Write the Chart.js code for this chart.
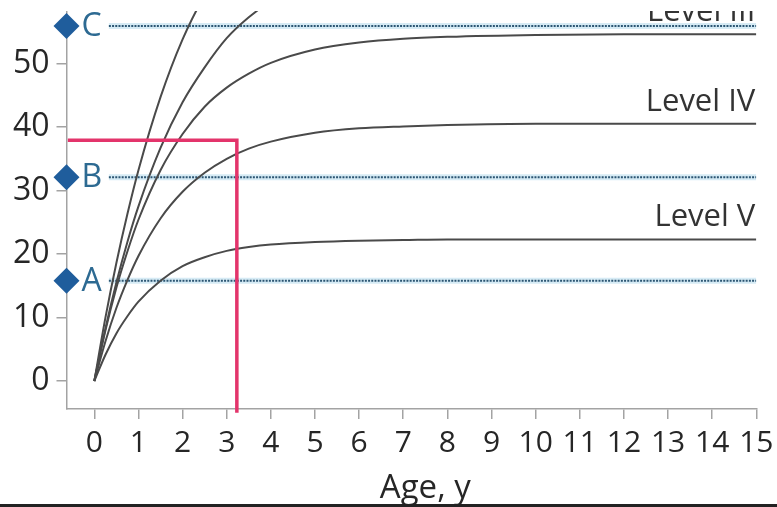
<!DOCTYPE html>
<html>
<head>
<meta charset="utf-8">
<script src="https://cdn.jsdelivr.net/npm/chart.js@4.4.0/dist/chart.umd.min.js"></script>
<style>
html,body{margin:0;padding:0;background:#fff;overflow:hidden;width:777px;height:507px;}
#crop{position:absolute;left:0;top:11px;width:777px;height:493px;overflow:hidden;background:#fff;}
#wrap{position:absolute;left:0;top:-51px;width:777px;height:547px;}
#bar{position:absolute;left:0;top:504px;width:777px;height:3px;background:#222;}
</style>
</head>
<body>
<div id="crop"><div id="wrap"><canvas id="c" width="777" height="547"></canvas></div></div>
<div id="bar"></div>
<script>
// ---- data ----
const ages = [0, 0.25, 0.5, 0.75, 1, 1.5, 2, 2.5, 3, 3.5, 4, 5, 6, 7, 8, 10, 12, 15];
const levelNames = ['Level I', 'Level II', 'Level III', 'Level IV', 'Level V'];
const levelI   = [0, 9.9, 18.6, 26.3, 33.2, 44.7, 53.8, 60.8, 66.4, 70.7, 74.3, null, null, null, null, null, null, null];
const levelII  = [0, 8.2, 15.5, 21.9, 27.5, 36.7, 43.9, 49.4, 54.0, 57.3, 59.8, 63.2, null, null, null, null, null, null];
const levelIII = [0, 7.9, 14.7, 20.4, 25.4, 33.2, 38.9, 43.2, 46.2, 48.4, 50.1, 52.2, 53.3, 53.9, 54.2, 54.5, 54.6, 54.6];
const levelIV  = [0, 6.2, 11.5, 15.9, 19.7, 25.6, 29.8, 32.8, 35.0, 36.6, 37.7, 39.1, 39.8, 40.1, 40.3, 40.5, 40.5, 40.5];
const levelV   = [0, 4.1, 7.5, 10.2, 12.5, 15.8, 18.1, 19.5, 20.5, 21.1, 21.5, 21.9, 22.1, 22.2, 22.3, 22.3, 22.3, 22.3];
const refNames = ['A', 'B', 'C'];
const refValues = [15.8, 32.1, 55.9];
const markerAge = 3.23;
const markerScore = 37.9;
const xTicks = [0,1,2,3,4,5,6,7,8,9,10,11,12,13,14,15];
const yTicks = [0,10,20,30,40,50,60];
const xTitle = 'Age, y';

const X_MIN = -0.63, X_MAX = 15, Y_MIN = -4.4, Y_MAX = 64;
const REF_START = 0.33;
const FONT = '"Open Sans", "Noto Sans", sans-serif';

const levels = [levelI, levelII, levelIII, levelIV, levelV];
const datasets = [];

// reference lines (light halo + dotted dark line)
refValues.forEach(v => {
  datasets.push({type:'line', data:[{x:REF_START,y:v},{x:X_MAX,y:v}], borderColor:'#d6ebf5', borderWidth:6,
    pointRadius:0, order:10});
  datasets.push({type:'line', data:[{x:REF_START,y:v},{x:X_MAX,y:v}], borderColor:'#2c5673', borderWidth:2,
    borderDash:[2,1.2], pointRadius:0, order:9});
});
// level curves
levels.forEach((vals, i) => {
  datasets.push({type:'line', label:levelNames[i],
    data: ages.map((a, j) => ({x:a, y:vals[j]})),
    borderColor:'#4a4a4a', borderWidth:2, pointRadius:0, cubicInterpolationMode:'monotone',
    spanGaps:false, order:5});
});
// pink marker lines
datasets.push({type:'line', data:[{x:X_MIN+0.03,y:markerScore},{x:markerAge,y:markerScore},{x:markerAge,y:-5}],
  borderColor:'#e3346b', borderWidth:3.5, pointRadius:0, tension:0, clip:false, order:2, borderJoinStyle:'miter'});
// diamonds
datasets.push({type:'scatter', data: refValues.map(v => ({x:X_MIN, y:v})),
  pointStyle:'rectRot', pointRadius:13, backgroundColor:'#1f5d9c', borderColor:'#1f5d9c', borderWidth:0,
  clip:false, order:1});

const textPlugin = {
  id:'texts',
  afterDatasetsDraw(chart){
    const ctx = chart.ctx, xs = chart.scales.x, ys = chart.scales.y;
    ctx.save();
    ctx.textBaseline = 'middle';
    // A/B/C labels
    ctx.font = '32px ' + FONT;
    ctx.fillStyle = '#2d6a92';
    ctx.textAlign = 'left';
    refValues.forEach((v, i) => {
      ctx.fillText(refNames[i], xs.getPixelForValue(X_MIN) + 15, ys.getPixelForValue(v) + 1);
    });
    // level labels
    ctx.font = '31px ' + FONT;
    ctx.fillStyle = '#333333';
    ctx.textAlign = 'right';
    levels.forEach((vals, i) => {
      const last = vals[vals.length - 1];
      if (last === null) return;
      ctx.fillText(levelNames[i], chart.chartArea.right - 1, ys.getPixelForValue(last) - 22);
    });
    // x-axis title, centred under the tick range
    ctx.font = '33px ' + FONT;
    ctx.fillStyle = '#262626';
    ctx.textAlign = 'center';
    ctx.textBaseline = 'alphabetic';
    const mid = (xTicks[0] + xTicks[xTicks.length - 1]) / 2;
    ctx.fillText(xTitle, xs.getPixelForValue(mid), xs.bottom - 9);
    ctx.restore();
  }
};

new Chart(document.getElementById('c'), {
  data:{datasets},
  plugins:[textPlugin],
  options:{
    responsive:false, animation:false,
    layout:{padding:{top:14.6, left:0, right:20.7, bottom:0}},
    plugins:{legend:{display:false}, tooltip:{enabled:false}},
    scales:{
      x:{type:'linear', min:X_MIN, max:X_MAX,
        afterBuildTicks:s => { s.ticks = xTicks.map(v => ({value:v})); },
        afterFit:s => { s.height = 98; s.paddingLeft = 0; s.paddingRight = 0; },
        grid:{drawOnChartArea:false, drawTicks:true, tickLength:10, color:'#a3a3a3', lineWidth:1.5},
        border:{display:true, color:'#a3a3a3', width:1.5},
        ticks:{autoSkip:false, maxRotation:0, minRotation:0, padding:6, color:'#262626',
          font:{family:FONT, size:30}},
        title:{display:false}
      },
      y:{type:'linear', min:Y_MIN, max:Y_MAX,
        afterBuildTicks:s => { s.ticks = yTicks.map(v => ({value:v})); },
        afterFit:s => { s.width = 66.5; s.paddingTop = 0; s.paddingBottom = 0; },
        grid:{drawOnChartArea:false, drawTicks:true, tickLength:10, color:'#a3a3a3', lineWidth:1.5},
        border:{display:true, color:'#a3a3a3', width:1.5},
        ticks:{padding:7, color:'#262626', font:{family:FONT, size:32}}
      }
    }
  }
});
</script>
</body>
</html>
